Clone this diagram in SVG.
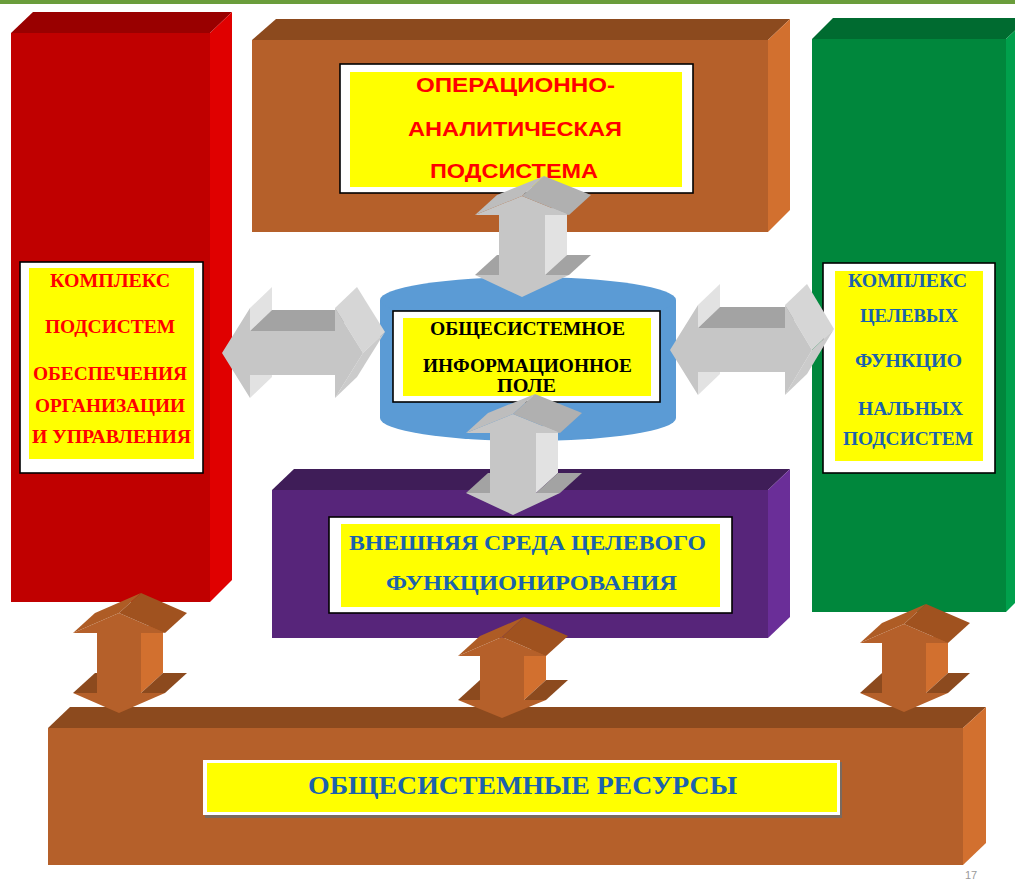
<svg xmlns="http://www.w3.org/2000/svg" width="1015" height="881" viewBox="0 0 1015 881">
<style>
.wb{fill:#fff;stroke:#000;stroke-width:1.6}
.yl{fill:#ffff00}
.ser{font-family:"Liberation Serif","Times New Roman",serif;font-weight:bold}
.san{font-family:"Liberation Sans",Arial,sans-serif;font-weight:bold}
.red{fill:#ff0000}
.blu{fill:#1b62ad}
.blk{fill:#000}
.gF{fill:#c6c6c6}.gL{fill:#e2e2e2}.gD{fill:#a3a3a3}.gA{fill:#d6d6d6}.gB{fill:#cbcbcb}.gU1{fill:#bdbdbd}.gU2{fill:#b0b0b0}
.bF{fill:#b5602a}.bS{fill:#d2702f}.bD{fill:#8c4a1e}.bU1{fill:#ae5c25}.bU2{fill:#a0521f}
</style>
<rect x="0" y="0" width="1015" height="4" fill="#6a9d3b"/>

<g id="red-box">
<polygon points="11,33 33,12 232,12 210,33" fill="#990000"/>
<polygon points="210,33 232,12 232,580 210,602" fill="#e00000"/>
<rect x="11" y="33" width="199" height="569" fill="#c00000"/>
<rect class="wb" x="20" y="262" width="183" height="211"/>
<rect class="yl" x="29" y="268" width="165" height="191"/>
<text class="ser red" font-size="18" x="50" y="287" textLength="120" lengthAdjust="spacingAndGlyphs">КОМПЛЕКС</text>
<text class="ser red" font-size="18" x="45" y="333" textLength="130" lengthAdjust="spacingAndGlyphs">ПОДСИСТЕМ</text>
<text class="ser red" font-size="18" x="33" y="380" textLength="154" lengthAdjust="spacingAndGlyphs">ОБЕСПЕЧЕНИЯ</text>
<text class="ser red" font-size="18" x="35" y="412" textLength="150" lengthAdjust="spacingAndGlyphs">ОРГАНИЗАЦИИ</text>
<text class="ser red" font-size="18" x="32" y="443" textLength="159" lengthAdjust="spacingAndGlyphs">И УПРАВЛЕНИЯ</text>
</g>

<g id="operational-box">
<polygon points="252,40 276,19 790,19 768,40" fill="#8c4a1e"/>
<polygon points="768,40 790,19 790,210 768,232" fill="#d2702f"/>
<rect x="252" y="40" width="516" height="192" fill="#b5602a"/>
<rect class="wb" x="340" y="64" width="353" height="129"/>
<rect class="yl" x="350" y="72" width="332" height="115"/>
<text class="san red" font-size="21" x="416" y="92" textLength="199" lengthAdjust="spacingAndGlyphs">ОПЕРАЦИОННО-</text>
<text class="san red" font-size="21" x="408" y="136" textLength="214" lengthAdjust="spacingAndGlyphs">АНАЛИТИЧЕСКАЯ</text>
<text class="san red" font-size="21" x="430" y="178" textLength="168" lengthAdjust="spacingAndGlyphs">ПОДСИСТЕМА</text>
</g>

<g id="green-box">
<polygon points="812,39 833,18 1028,18 1006,39" fill="#006b30"/>
<polygon points="1006,39 1028,18 1028,590 1006,612" fill="#00a04c"/>
<rect x="812" y="39" width="194" height="573" fill="#00873c"/>
<rect class="wb" x="823" y="263" width="172" height="210"/>
<rect class="yl" x="835" y="271" width="148" height="190"/>
<text class="ser blu" font-size="18" x="848" y="287" textLength="119" lengthAdjust="spacingAndGlyphs">КОМПЛЕКС</text>
<text class="ser blu" font-size="18" x="860" y="322" textLength="98" lengthAdjust="spacingAndGlyphs">ЦЕЛЕВЫХ</text>
<text class="ser blu" font-size="18" x="855" y="367" textLength="107" lengthAdjust="spacingAndGlyphs">ФУНКЦИО</text>
<text class="ser blu" font-size="18" x="858" y="415" textLength="105" lengthAdjust="spacingAndGlyphs">НАЛЬНЫХ</text>
<text class="ser blu" font-size="18" x="843" y="445" textLength="130" lengthAdjust="spacingAndGlyphs">ПОДСИСТЕМ</text>
</g>

<g id="environment-box">
<polygon points="272,490 294,469 790,469 768,490" fill="#3f1d58"/>
<polygon points="768,490 790,469 790,617 768,638" fill="#6a2e98"/>
<rect x="272" y="490" width="496" height="148" fill="#57257a"/>
<rect class="wb" x="329" y="517" width="403" height="96"/>
<rect class="yl" x="341" y="524" width="379" height="83"/>
<text class="ser blu" font-size="22" x="349" y="550" textLength="357" lengthAdjust="spacingAndGlyphs">ВНЕШНЯЯ  СРЕДА ЦЕЛЕВОГО</text>
<text class="ser blu" font-size="22" x="386" y="590" textLength="291" lengthAdjust="spacingAndGlyphs">ФУНКЦИОНИРОВАНИЯ</text>
</g>

<g id="resources-box">
<polygon points="48,728 70,707 986,707 963,728" fill="#8c4a1e"/>
<polygon points="963,728 986,707 986,843 963,865" fill="#d2702f"/>
<rect x="48" y="728" width="915" height="137" fill="#b5602a"/>
<rect x="205" y="762" width="637" height="56" fill="#7a6a60"/>
<rect x="203" y="760" width="637" height="55" fill="#fff"/>
<rect class="yl" x="207" y="763" width="630" height="49"/>
<text class="ser blu" font-size="26" x="308" y="794" textLength="429" lengthAdjust="spacingAndGlyphs">ОБЩЕСИСТЕМНЫЕ РЕСУРСЫ</text>
</g>

<g id="info-field">
<path d="M380,300 L380,418 A148,23 0 0 0 676,418 L676,300 Z" fill="#5b9bd5"/>
<ellipse cx="528" cy="300" rx="148" ry="23" fill="#5b9bd5"/>
<rect class="wb" x="393" y="311" width="267" height="91"/>
<rect class="yl" x="403" y="318" width="248" height="78"/>
<text class="ser blk" font-size="19" x="430" y="335" textLength="195" lengthAdjust="spacingAndGlyphs">ОБЩЕСИСТЕМНОЕ</text>
<text class="ser blk" font-size="19" x="423" y="372" textLength="209" lengthAdjust="spacingAndGlyphs">ИНФОРМАЦИОННОЕ</text>
<text class="ser blk" font-size="19" x="497" y="392" textLength="59" lengthAdjust="spacingAndGlyphs">ПОЛЕ</text>
</g>

<g id="connectors">
<g id="arrow-left">
<polygon class="gL" points="250,308 272,287 272,310 250,331"/>
<polygon class="gL" points="250,375 272,354 272,377 250,398"/>
<polygon class="gD" points="250,331 272,310 357,310 335,331"/>
<polygon class="gA" points="335,308 357,287 385,332 363,353"/>
<polygon class="gB" points="363,353 385,332 357,377 335,398"/>
<polygon class="gF" points="222,353 250,308 250,331 335,331 335,308 363,353 335,398 335,375 250,375 250,398"/>
</g>
<g id="arrow-right">
<polygon class="gL" points="698,305 720,284 720,307 698,328"/>
<polygon class="gL" points="698,372 720,351 720,374 698,395"/>
<polygon class="gD" points="698,328 720,307 807,307 785,328"/>
<polygon class="gA" points="785,305 807,284 834,329 812,350"/>
<polygon class="gB" points="812,350 834,329 807,374 785,395"/>
<polygon class="gF" points="670,350 698,305 698,328 785,328 785,305 812,350 785,395 785,372 698,372 698,395"/>
</g>
<g id="arrow-top">
<polygon class="gL" points="545,215 567,195 567,255 545,275"/>
<polygon class="gD" points="475,275 497,255 521,255 499,275"/>
<polygon class="gD" points="545,275 567,255 591,255 569,275"/>
<polygon class="gF" points="522,196 569,215 545,215 545,275 569,275 522,297 475,275 499,275 499,215 475,215"/>
<polygon class="gU1" points="475,215 522,196 544,176 497,195"/>
<polygon class="gU2" points="522,196 569,215 591,195 544,176"/>
</g>
<g id="arrow-bottom">
<polygon class="gL" points="536,433 558,413 558,473 536,493"/>
<polygon class="gD" points="466,493 488,473 512,473 490,493"/>
<polygon class="gD" points="536,493 558,473 582,473 560,493"/>
<polygon class="gF" points="513,414 560,433 536,433 536,493 560,493 513,515 466,493 490,493 490,433 466,433"/>
<polygon class="gU1" points="466,433 513,414 535,394 488,413"/>
<polygon class="gU2" points="513,414 560,433 582,413 535,394"/>
</g>
<g id="arrow-res-left">
<polygon class="bS" points="141,633 163,613 163,673 141,693"/>
<polygon class="bD" points="73,693 95,673 119,673 97,693"/>
<polygon class="bD" points="141,693 163,673 187,673 165,693"/>
<polygon class="bF" points="119,613 165,633 141,633 141,693 165,693 119,713 73,693 97,693 97,633 73,633"/>
<polygon class="bU1" points="73,633 119,613 141,593 95,613"/>
<polygon class="bU2" points="119,613 165,633 187,613 141,593"/>
</g>
<g id="arrow-res-mid">
<polygon class="bS" points="524,656 546,636 546,680 524,700"/>
<polygon class="bD" points="458,700 480,680 502,680 480,700"/>
<polygon class="bD" points="524,700 546,680 568,680 546,700"/>
<polygon class="bF" points="502,637 546,656 524,656 524,700 546,700 502,718 458,700 480,700 480,656 458,656"/>
<polygon class="bU1" points="458,656 502,637 524,617 480,636"/>
<polygon class="bU2" points="502,637 546,656 568,636 524,617"/>
</g>
<g id="arrow-res-right">
<polygon class="bS" points="926,643 948,623 948,673 926,693"/>
<polygon class="bD" points="860,693 882,673 904,673 882,693"/>
<polygon class="bD" points="926,693 948,673 970,673 948,693"/>
<polygon class="bF" points="904,624 948,643 926,643 926,693 948,693 904,712 860,693 882,693 882,643 860,643"/>
<polygon class="bU1" points="860,643 904,624 926,604 882,623"/>
<polygon class="bU2" points="904,624 948,643 970,623 926,604"/>
</g>
</g>

<text x="965" y="879" font-family="Liberation Sans, Arial, sans-serif" font-size="11" fill="#9a9a9a">17</text>
</svg>
